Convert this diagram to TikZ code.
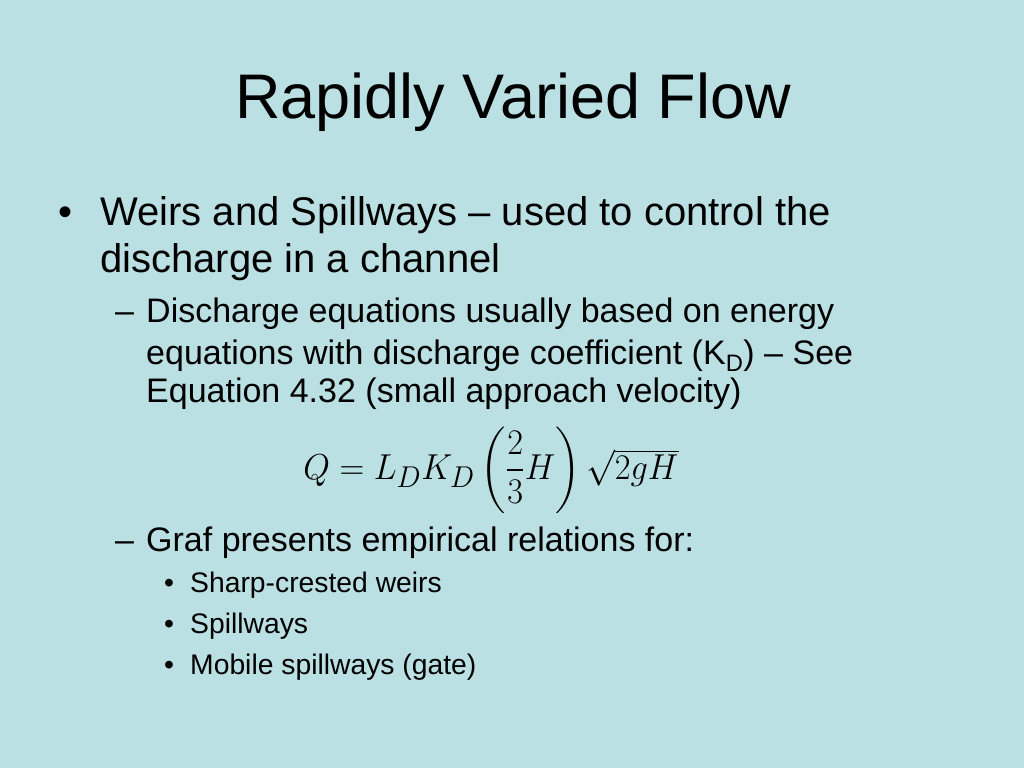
\documentclass[tikz,border=0pt]{standalone}
\usepackage{fontspec}
\setmainfont{Liberation Sans}
\usepackage{amsmath}
\usepackage{graphicx}
\definecolor{slidebg}{RGB}{187,224,227}
\begin{document}
\begin{tikzpicture}[x=1pt, y=-1pt,
lvlone/.style={anchor=base west, inner sep=0pt, font=\fontsize{40}{44}\selectfont},
lvltwo/.style={anchor=base west, inner sep=0pt, font=\fontsize{34}{38}\selectfont},
lvlthree/.style={anchor=base west, inner sep=0pt, font=\fontsize{28.3}{32}\selectfont}
]
\fill[slidebg] (0,0) rectangle (1024,768);
\useasboundingbox (0,0) rectangle (1024,768);

% Title
\node[anchor=base, inner sep=0pt, font=\fontsize{63}{68}\selectfont] (title) at (513,118) {Rapidly Varied Flow};

% First level
\node[lvlone] (b1) at (58,225) {•};
\node[lvlone] (t1a) at (100,225) {Weirs and Spillways – used to control the};
\node[lvlone] (t1b) at (100,272) {discharge in a channel};

% Second level
\node[lvltwo] (d1) at (115,322) {–};
\node[lvltwo] (t2a) at (146,322) {Discharge equations usually based on energy};
\node[lvltwo] (t2b) at (146,364) {equations with discharge coefficient (K\textsubscript{D}) – See};
\node[lvltwo] (t2c) at (146,402) {Equation 4.32 (small approach velocity)};

% Equation
\node[inner sep=0pt] (eqn) at (491,470)
{\Huge\scalebox{1.38}[1.45]{$Q = L_D K_D \left(\dfrac{2}{3}H\right)\sqrt{2gH}$}};

\node[lvltwo] (d2) at (115,551) {–};
\node[lvltwo] (t2d) at (146,551) {Graf presents empirical relations for:};

% Third level
\foreach \txt [count=\i] in {Sharp-crested weirs, Spillways, Mobile spillways (gate)} {
  \node[lvlthree] (b3\i) at (164,551+41*\i) {•};
  \node[lvlthree] (t3\i) at (190,551+41*\i) {\txt};
}
\end{tikzpicture}
\end{document}
